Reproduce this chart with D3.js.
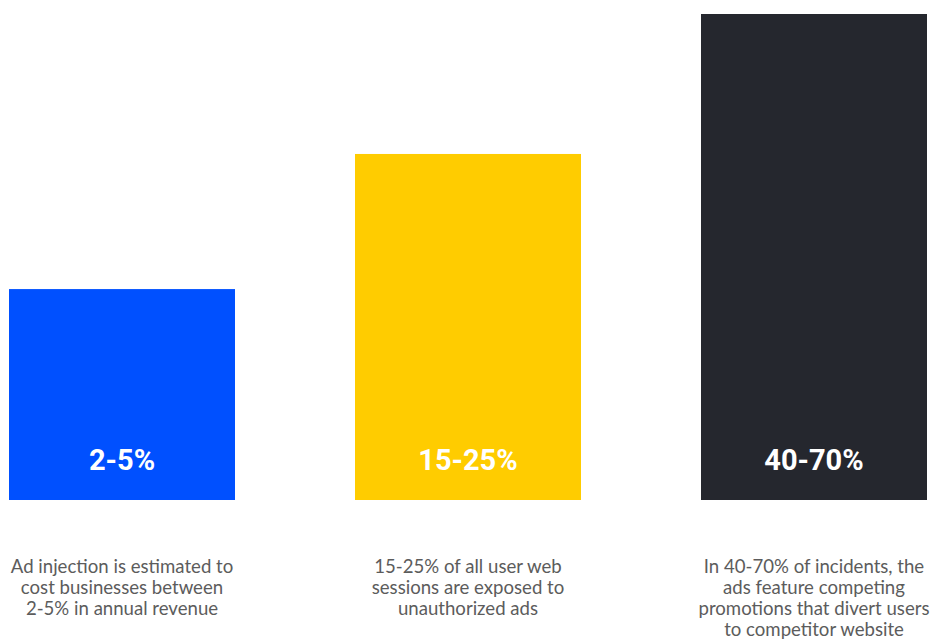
<!DOCTYPE html>
<html>
<head>
<meta charset="utf-8">
<script src="https://cdn.jsdelivr.net/npm/d3@7"></script>
<style>
  body { margin: 0; background: #fff; }
  svg { display: block; }
</style>
</head>
<body>
<svg id="chart" width="932" height="640"></svg>
<script>
// données du graphique
const categories = ["ad-revenue", "web-sessions", "competitor"];
const barValues = [43.4, 71.2, 100];
const barLabels = ["2-5%", "15-25%", "40-70%"];
const barColors = ["#0050ff", "#ffcc00", "#25272e"];
const descriptions = [
    ["Ad injection is estimated to", "cost businesses between", "2-5% in annual revenue"],
    ["15-25% of all user web", "sessions are exposed to", "unauthorized ads"],
    ["In 40-70% of incidents, the", "ads feature competing", "promotions that divert users", "to competitor website"]
];

const svg = d3.select("#chart");

const x = d3.scaleBand()
    .domain(categories)
    .range([9, 927])
    .paddingInner(120 / 346)
    .paddingOuter(0);

const y = d3.scaleLinear()
    .domain([0, 100])
    .range([500, 14]);

// Barres
svg.selectAll("rect.bar")
    .data(categories)
    .enter()
    .append("rect")
    .attr("class", "bar")
    .attr("x", d => x(d))
    .attr("y", (d, i) => y(barValues[i]))
    .attr("width", x.bandwidth())
    .attr("height", (d, i) => y(0) - y(barValues[i]))
    .attr("fill", (d, i) => barColors[i]);

// Étiquettes dans les barres
svg.selectAll("text.bar-label")
    .data(categories)
    .enter()
    .append("text")
    .attr("class", "bar-label")
    .attr("x", d => x(d) + x.bandwidth() / 2)
    .attr("y", y(0) - 40)
    .attr("dy", "0.35em")
    .attr("text-anchor", "middle")
    .attr("font-family", "Roboto, 'DejaVu Sans', sans-serif")
    .attr("font-weight", "bold")
    .attr("font-size", "29px")
    .attr("fill", "#fff")
    .text((d, i) => barLabels[i]);

// Descriptions sous les barres
categories.forEach((c, i) => {
    const t = svg.append("text")
        .attr("x", x(c) + x.bandwidth() / 2)
        .attr("y", 566)
        .attr("text-anchor", "middle")
        .attr("font-family", "Lato, sans-serif")
        .attr("font-size", "18.6px")
        .attr("fill", "#5c5c5c");
    descriptions[i].forEach((line, j) => {
        t.append("tspan")
            .attr("x", x(c) + x.bandwidth() / 2)
            .attr("y", 566 + j * 21)
            .attr("dy", "0.35em")
            .text(line);
    });
});
</script>
</body>
</html>
